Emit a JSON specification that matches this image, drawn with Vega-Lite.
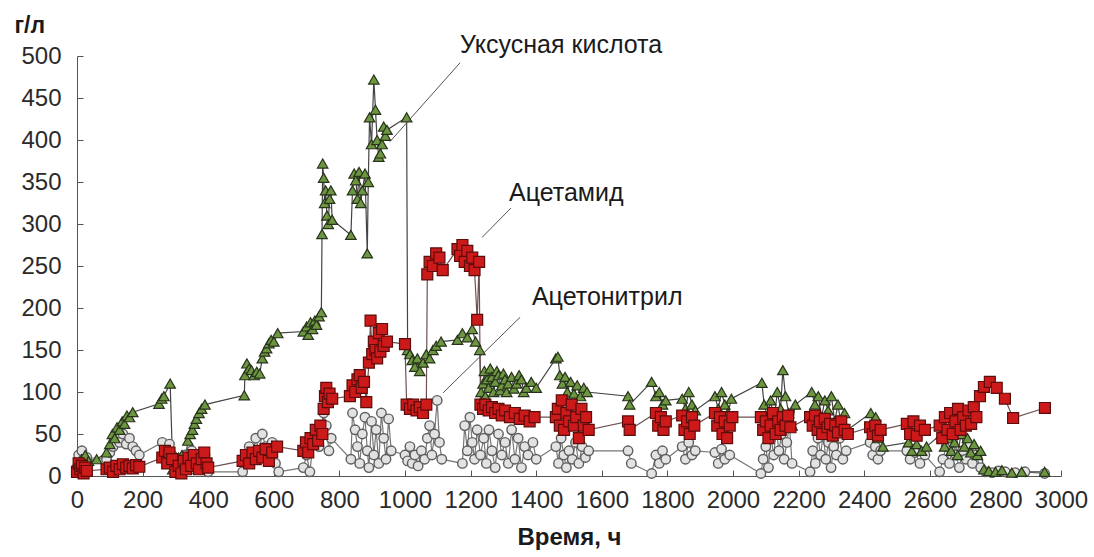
{
  "$schema": "https://vega.github.io/schema/vega-lite/v6.json",
  "width": 984,
  "height": 420,
  "autosize": "none",
  "padding": {"left": 77, "top": 56, "right": 33, "bottom": 81},
  "background": "white",
  "config": {
    "view": {"stroke": null},
    "font": "Liberation Sans",
    "axis": {"grid": false, "domainColor": "#555", "tickColor": "#555", "labelColor": "#2a2a2a", "labelFont": "Liberation Sans", "titleFont": "Liberation Sans", "titleColor": "#1a1a1a"}
  },
  "datasets": {
    "acid": [
      {"t":0,"c":8},{"t":5,"c":15},{"t":10,"c":5},{"t":15,"c":20},{"t":20,"c":12},{"t":25,"c":25},{"t":35,"c":18},{"t":60,"c":20},{"t":90,"c":28},{"t":100,"c":38},{"t":108,"c":50},{"t":115,"c":45},{"t":122,"c":58},{"t":130,"c":55},{"t":138,"c":65},{"t":145,"c":62},{"t":152,"c":72},{"t":160,"c":70},{"t":170,"c":76},{"t":250,"c":86},{"t":258,"c":92},{"t":265,"c":95},{"t":284,"c":110},{"t":292,"c":8},{"t":300,"c":15},{"t":310,"c":22},{"t":320,"c":25},{"t":330,"c":18},{"t":338,"c":42},{"t":345,"c":50},{"t":352,"c":55},{"t":358,"c":62},{"t":364,"c":68},{"t":372,"c":75},{"t":380,"c":80},{"t":390,"c":85},{"t":510,"c":96},{"t":512,"c":120},{"t":518,"c":134},{"t":525,"c":128},{"t":532,"c":126},{"t":540,"c":120},{"t":548,"c":124},{"t":557,"c":122},{"t":565,"c":140},{"t":572,"c":148},{"t":578,"c":152},{"t":585,"c":158},{"t":592,"c":162},{"t":600,"c":160},{"t":612,"c":170},{"t":690,"c":172},{"t":700,"c":178},{"t":705,"c":168},{"t":712,"c":183},{"t":718,"c":175},{"t":725,"c":185},{"t":730,"c":180},{"t":738,"c":190},{"t":745,"c":195},{"t":747,"c":288},{"t":749,"c":372},{"t":752,"c":355},{"t":755,"c":325},{"t":758,"c":340},{"t":762,"c":310},{"t":766,"c":300},{"t":770,"c":330},{"t":774,"c":340},{"t":778,"c":305},{"t":835,"c":287},{"t":840,"c":340},{"t":845,"c":360},{"t":850,"c":352},{"t":855,"c":330},{"t":860,"c":362},{"t":865,"c":325},{"t":870,"c":340},{"t":878,"c":360},{"t":885,"c":265},{"t":888,"c":350},{"t":892,"c":427},{"t":898,"c":395},{"t":905,"c":472},{"t":910,"c":436},{"t":915,"c":400},{"t":920,"c":380},{"t":925,"c":384},{"t":930,"c":395},{"t":935,"c":416},{"t":940,"c":405},{"t":945,"c":412},{"t":1005,"c":427},{"t":1008,"c":150},{"t":1015,"c":145},{"t":1022,"c":138},{"t":1030,"c":130},{"t":1038,"c":140},{"t":1045,"c":125},{"t":1055,"c":135},{"t":1065,"c":145},{"t":1075,"c":140},{"t":1085,"c":150},{"t":1095,"c":155},{"t":1110,"c":160},{"t":1160,"c":162},{"t":1175,"c":170},{"t":1190,"c":165},{"t":1205,"c":175},{"t":1215,"c":160},{"t":1228,"c":150},{"t":1232,"c":100},{"t":1238,"c":110},{"t":1242,"c":125},{"t":1245,"c":95},{"t":1250,"c":115},{"t":1255,"c":105},{"t":1260,"c":128},{"t":1265,"c":118},{"t":1270,"c":100},{"t":1275,"c":112},{"t":1280,"c":125},{"t":1285,"c":120},{"t":1290,"c":102},{"t":1295,"c":108},{"t":1300,"c":122},{"t":1305,"c":115},{"t":1310,"c":100},{"t":1315,"c":110},{"t":1325,"c":118},{"t":1332,"c":104},{"t":1340,"c":110},{"t":1348,"c":120},{"t":1355,"c":115},{"t":1362,"c":100},{"t":1370,"c":105},{"t":1385,"c":112},{"t":1400,"c":105},{"t":1460,"c":140},{"t":1466,"c":142},{"t":1472,"c":120},{"t":1480,"c":110},{"t":1488,"c":118},{"t":1495,"c":100},{"t":1505,"c":112},{"t":1515,"c":98},{"t":1525,"c":108},{"t":1535,"c":95},{"t":1545,"c":105},{"t":1555,"c":100},{"t":1680,"c":95},{"t":1685,"c":85},{"t":1752,"c":112},{"t":1765,"c":95},{"t":1775,"c":100},{"t":1785,"c":85},{"t":1795,"c":90},{"t":1845,"c":92},{"t":1855,"c":80},{"t":1865,"c":100},{"t":1875,"c":85},{"t":1885,"c":78},{"t":1945,"c":95},{"t":1955,"c":80},{"t":1965,"c":100},{"t":1975,"c":85},{"t":1985,"c":75},{"t":1995,"c":92},{"t":2088,"c":111},{"t":2095,"c":85},{"t":2105,"c":70},{"t":2115,"c":90},{"t":2125,"c":65},{"t":2135,"c":100},{"t":2145,"c":80},{"t":2152,"c":126},{"t":2160,"c":95},{"t":2170,"c":75},{"t":2180,"c":60},{"t":2190,"c":85},{"t":2240,"c":100},{"t":2250,"c":85},{"t":2260,"c":95},{"t":2270,"c":70},{"t":2280,"c":90},{"t":2290,"c":78},{"t":2300,"c":95},{"t":2310,"c":65},{"t":2320,"c":85},{"t":2330,"c":60},{"t":2340,"c":75},{"t":2350,"c":55},{"t":2420,"c":75},{"t":2428,"c":60},{"t":2435,"c":70},{"t":2442,"c":45},{"t":2450,"c":55},{"t":2457,"c":35},{"t":2535,"c":40},{"t":2545,"c":30},{"t":2560,"c":38},{"t":2575,"c":30},{"t":2590,"c":35},{"t":2635,"c":50},{"t":2645,"c":35},{"t":2655,"c":45},{"t":2665,"c":30},{"t":2675,"c":40},{"t":2685,"c":25},{"t":2695,"c":50},{"t":2705,"c":35},{"t":2715,"c":45},{"t":2725,"c":28},{"t":2735,"c":38},{"t":2745,"c":25},{"t":2755,"c":30},{"t":2765,"c":8},{"t":2780,"c":6},{"t":2800,"c":5},{"t":2820,"c":7},{"t":2850,"c":4},{"t":2880,"c":5},{"t":2950,"c":5}
    ],
    "amide": [
      {"t":0,"c":5},{"t":5,"c":15},{"t":10,"c":8},{"t":15,"c":12},{"t":20,"c":3},{"t":25,"c":10},{"t":30,"c":6},{"t":90,"c":8},{"t":100,"c":10},{"t":110,"c":5},{"t":120,"c":12},{"t":130,"c":8},{"t":140,"c":14},{"t":150,"c":10},{"t":160,"c":12},{"t":170,"c":9},{"t":180,"c":13},{"t":190,"c":11},{"t":260,"c":22},{"t":268,"c":30},{"t":275,"c":15},{"t":282,"c":28},{"t":290,"c":20},{"t":300,"c":5},{"t":310,"c":12},{"t":318,"c":3},{"t":325,"c":18},{"t":332,"c":8},{"t":340,"c":22},{"t":348,"c":12},{"t":356,"c":25},{"t":365,"c":15},{"t":372,"c":8},{"t":380,"c":20},{"t":388,"c":28},{"t":395,"c":15},{"t":400,"c":10},{"t":505,"c":18},{"t":515,"c":25},{"t":525,"c":15},{"t":535,"c":28},{"t":545,"c":20},{"t":555,"c":30},{"t":565,"c":22},{"t":575,"c":32},{"t":585,"c":18},{"t":595,"c":28},{"t":610,"c":35},{"t":690,"c":30},{"t":698,"c":40},{"t":705,"c":28},{"t":712,"c":45},{"t":720,"c":38},{"t":728,"c":55},{"t":735,"c":42},{"t":742,"c":60},{"t":748,"c":50},{"t":752,"c":80},{"t":756,"c":95},{"t":760,"c":105},{"t":765,"c":88},{"t":770,"c":98},{"t":778,"c":92},{"t":832,"c":95},{"t":840,"c":108},{"t":848,"c":100},{"t":855,"c":115},{"t":862,"c":120},{"t":868,"c":105},{"t":875,"c":112},{"t":882,"c":88},{"t":890,"c":135},{"t":895,"c":185},{"t":900,"c":145},{"t":905,"c":160},{"t":910,"c":150},{"t":915,"c":140},{"t":920,"c":170},{"t":925,"c":148},{"t":930,"c":175},{"t":935,"c":155},{"t":945,"c":160},{"t":1000,"c":157},{"t":1005,"c":85},{"t":1015,"c":80},{"t":1025,"c":85},{"t":1035,"c":78},{"t":1045,"c":82},{"t":1055,"c":75},{"t":1065,"c":85},{"t":1068,"c":240},{"t":1075,"c":255},{"t":1085,"c":250},{"t":1095,"c":265},{"t":1105,"c":260},{"t":1115,"c":245},{"t":1160,"c":270},{"t":1168,"c":262},{"t":1175,"c":275},{"t":1182,"c":255},{"t":1190,"c":268},{"t":1198,"c":250},{"t":1205,"c":260},{"t":1212,"c":245},{"t":1220,"c":186},{"t":1226,"c":255},{"t":1230,"c":85},{"t":1238,"c":80},{"t":1245,"c":85},{"t":1255,"c":78},{"t":1265,"c":82},{"t":1275,"c":75},{"t":1285,"c":80},{"t":1295,"c":72},{"t":1305,"c":78},{"t":1320,"c":70},{"t":1335,"c":75},{"t":1350,"c":68},{"t":1365,"c":72},{"t":1380,"c":65},{"t":1395,"c":70},{"t":1460,"c":70},{"t":1466,"c":80},{"t":1472,"c":60},{"t":1478,"c":90},{"t":1485,"c":55},{"t":1492,"c":75},{"t":1500,"c":65},{"t":1508,"c":85},{"t":1515,"c":60},{"t":1522,"c":70},{"t":1530,"c":45},{"t":1538,"c":80},{"t":1545,"c":60},{"t":1552,"c":70},{"t":1560,"c":55},{"t":1680,"c":65},{"t":1685,"c":55},{"t":1765,"c":75},{"t":1772,"c":60},{"t":1780,"c":70},{"t":1788,"c":55},{"t":1795,"c":65},{"t":1845,"c":72},{"t":1852,"c":55},{"t":1860,"c":65},{"t":1868,"c":50},{"t":1875,"c":70},{"t":1882,"c":60},{"t":1945,"c":75},{"t":1952,"c":60},{"t":1960,"c":70},{"t":1968,"c":50},{"t":1975,"c":65},{"t":1982,"c":45},{"t":1990,"c":60},{"t":1998,"c":70},{"t":2085,"c":70},{"t":2092,"c":55},{"t":2100,"c":65},{"t":2108,"c":45},{"t":2115,"c":60},{"t":2122,"c":75},{"t":2130,"c":50},{"t":2138,"c":65},{"t":2145,"c":55},{"t":2152,"c":70},{"t":2160,"c":60},{"t":2168,"c":72},{"t":2175,"c":58},{"t":2235,"c":70},{"t":2243,"c":60},{"t":2250,"c":72},{"t":2258,"c":55},{"t":2265,"c":65},{"t":2272,"c":50},{"t":2280,"c":68},{"t":2288,"c":58},{"t":2296,"c":62},{"t":2304,"c":48},{"t":2312,"c":60},{"t":2320,"c":52},{"t":2330,"c":65},{"t":2340,"c":55},{"t":2350,"c":50},{"t":2418,"c":58},{"t":2426,"c":50},{"t":2434,"c":60},{"t":2442,"c":48},{"t":2450,"c":55},{"t":2530,"c":62},{"t":2540,"c":50},{"t":2550,"c":65},{"t":2560,"c":48},{"t":2570,"c":60},{"t":2585,"c":55},{"t":2630,"c":60},{"t":2638,"c":45},{"t":2646,"c":70},{"t":2654,"c":55},{"t":2662,"c":75},{"t":2670,"c":50},{"t":2678,"c":65},{"t":2686,"c":80},{"t":2694,"c":55},{"t":2702,"c":70},{"t":2710,"c":60},{"t":2718,"c":78},{"t":2726,"c":62},{"t":2734,"c":82},{"t":2742,"c":70},{"t":2753,"c":95},{"t":2765,"c":106},{"t":2783,"c":112},{"t":2804,"c":105},{"t":2829,"c":92},{"t":2854,"c":69},{"t":2951,"c":81}
    ],
    "nitrile": [
      {"t":0,"c":10},{"t":5,"c":25},{"t":10,"c":15},{"t":15,"c":30},{"t":20,"c":20},{"t":25,"c":12},{"t":30,"c":22},{"t":90,"c":20},{"t":100,"c":28},{"t":110,"c":35},{"t":120,"c":45},{"t":130,"c":40},{"t":140,"c":50},{"t":150,"c":38},{"t":160,"c":45},{"t":170,"c":35},{"t":180,"c":30},{"t":190,"c":25},{"t":260,"c":40},{"t":268,"c":30},{"t":275,"c":20},{"t":282,"c":38},{"t":290,"c":25},{"t":300,"c":10},{"t":310,"c":20},{"t":320,"c":5},{"t":330,"c":25},{"t":340,"c":15},{"t":350,"c":30},{"t":360,"c":8},{"t":370,"c":20},{"t":380,"c":12},{"t":390,"c":25},{"t":400,"c":5},{"t":505,"c":5},{"t":515,"c":20},{"t":525,"c":35},{"t":535,"c":25},{"t":545,"c":45},{"t":555,"c":30},{"t":565,"c":50},{"t":575,"c":35},{"t":585,"c":20},{"t":595,"c":40},{"t":605,"c":15},{"t":615,"c":5},{"t":690,"c":10},{"t":700,"c":25},{"t":710,"c":5},{"t":720,"c":40},{"t":730,"c":55},{"t":738,"c":35},{"t":745,"c":60},{"t":752,"c":75},{"t":760,"c":60},{"t":768,"c":30},{"t":775,"c":45},{"t":835,"c":20},{"t":840,"c":75},{"t":848,"c":55},{"t":855,"c":35},{"t":862,"c":15},{"t":870,"c":50},{"t":878,"c":70},{"t":885,"c":30},{"t":890,"c":10},{"t":898,"c":65},{"t":905,"c":25},{"t":912,"c":55},{"t":920,"c":15},{"t":928,"c":75},{"t":935,"c":45},{"t":942,"c":20},{"t":950,"c":68},{"t":958,"c":30},{"t":1000,"c":25},{"t":1008,"c":18},{"t":1015,"c":35},{"t":1022,"c":15},{"t":1030,"c":25},{"t":1040,"c":12},{"t":1050,"c":30},{"t":1060,"c":20},{"t":1068,"c":45},{"t":1075,"c":60},{"t":1082,"c":25},{"t":1090,"c":50},{"t":1098,"c":90},{"t":1105,"c":40},{"t":1112,"c":20},{"t":1175,"c":15},{"t":1182,"c":60},{"t":1190,"c":30},{"t":1198,"c":70},{"t":1205,"c":40},{"t":1212,"c":20},{"t":1220,"c":55},{"t":1230,"c":25},{"t":1240,"c":45},{"t":1248,"c":15},{"t":1256,"c":55},{"t":1265,"c":30},{"t":1275,"c":10},{"t":1285,"c":50},{"t":1295,"c":25},{"t":1305,"c":40},{"t":1315,"c":15},{"t":1325,"c":55},{"t":1335,"c":20},{"t":1345,"c":45},{"t":1355,"c":10},{"t":1365,"c":35},{"t":1375,"c":25},{"t":1390,"c":40},{"t":1400,"c":20},{"t":1460,"c":35},{"t":1468,"c":15},{"t":1476,"c":45},{"t":1484,"c":25},{"t":1492,"c":10},{"t":1500,"c":30},{"t":1510,"c":20},{"t":1520,"c":40},{"t":1530,"c":15},{"t":1540,"c":35},{"t":1550,"c":22},{"t":1560,"c":30},{"t":1680,"c":30},{"t":1690,"c":15},{"t":1752,"c":3},{"t":1765,"c":25},{"t":1775,"c":15},{"t":1785,"c":30},{"t":1795,"c":20},{"t":1845,"c":35},{"t":1855,"c":20},{"t":1865,"c":40},{"t":1875,"c":25},{"t":1885,"c":30},{"t":1945,"c":28},{"t":1955,"c":15},{"t":1965,"c":32},{"t":1975,"c":20},{"t":1990,"c":25},{"t":2085,"c":3},{"t":2092,"c":20},{"t":2100,"c":35},{"t":2108,"c":10},{"t":2116,"c":45},{"t":2124,"c":25},{"t":2132,"c":55},{"t":2140,"c":30},{"t":2148,"c":50},{"t":2156,"c":20},{"t":2164,"c":40},{"t":2172,"c":60},{"t":2180,"c":15},{"t":2235,"c":5},{"t":2243,"c":30},{"t":2251,"c":15},{"t":2259,"c":45},{"t":2267,"c":25},{"t":2275,"c":50},{"t":2283,"c":20},{"t":2291,"c":40},{"t":2299,"c":10},{"t":2307,"c":35},{"t":2315,"c":25},{"t":2325,"c":45},{"t":2335,"c":20},{"t":2345,"c":30},{"t":2418,"c":40},{"t":2426,"c":25},{"t":2434,"c":35},{"t":2442,"c":20},{"t":2450,"c":30},{"t":2530,"c":30},{"t":2540,"c":20},{"t":2555,"c":28},{"t":2570,"c":15},{"t":2585,"c":25},{"t":2630,"c":5},{"t":2640,"c":20},{"t":2650,"c":35},{"t":2660,"c":15},{"t":2670,"c":40},{"t":2680,"c":25},{"t":2690,"c":10},{"t":2700,"c":30},{"t":2710,"c":20},{"t":2720,"c":35},{"t":2730,"c":15},{"t":2740,"c":25},{"t":2755,"c":10},{"t":2770,"c":5},{"t":2790,"c":4},{"t":2810,"c":6},{"t":2830,"c":5},{"t":2860,"c":4},{"t":2890,"c":5},{"t":2950,"c":3}
    ],
    "labels": [
      {"name":"Уксусная кислота","t":1168,"c":513,"t0":1168,"c0":492,"t1":954,"c1":398},
      {"name":"Ацетамид","t":1317,"c":337,"t0":1323,"c0":319,"t1":1235,"c1":284},
      {"name":"Ацетонитрил","t":1387,"c":213,"t0":1351,"c0":189,"t1":1116,"c1":99}
    ]
  },
  "encoding": {
    "x": {"field": "t", "type": "quantitative", "scale": {"domain": [0, 3000], "nice": false},
      "axis": {"values": [0,200,400,600,800,1000,1200,1400,1600,1800,2000,2200,2400,2600,2800,3000], "format": "d", "title": "Время, ч", "titleFontSize": 24, "titleFontWeight": "bold", "titlePadding": 13, "labelFontSize": 24, "tickSize": -6, "labelPadding": 18, "labelFlush": false, "labelOverlap": false}},
    "y": {"field": "c", "type": "quantitative", "scale": {"domain": [0, 500], "nice": false},
      "axis": {"values": [0,50,100,150,200,250,300,350,400,450,500], "format": "d", "title": "г/л", "titleAngle": 0, "titleAlign": "left", "titleBaseline": "middle", "titleX": -63, "titleY": -31, "titleFontSize": 23, "titleFontWeight": "bold", "labelFontSize": 24, "tickSize": -6, "labelPadding": 22}}
  },
  "layer": [
    {"data": {"name": "nitrile"}, "mark": {"type": "line", "color": "#777", "strokeWidth": 1.2, "clip": true}, "encoding": {}},
    {"data": {"name": "acid"}, "mark": {"type": "line", "color": "#444", "strokeWidth": 1.2, "clip": true}, "encoding": {}},
    {"data": {"name": "amide"}, "mark": {"type": "line", "color": "#6e5050", "strokeWidth": 1.2, "clip": true}, "encoding": {}},
    {"data": {"name": "nitrile"}, "mark": {"type": "point", "shape": "circle", "filled": true, "fill": "#e2e2e2", "stroke": "#5e5e5e", "strokeWidth": 1.4, "size": 90, "opacity": 1}},
    {"data": {"name": "acid"}, "mark": {"type": "point", "shape": "triangle-up", "filled": true, "fill": "#6c9640", "stroke": "#28331c", "strokeWidth": 1.2, "size": 110, "opacity": 1}},
    {"data": {"name": "amide"}, "mark": {"type": "point", "shape": "square", "filled": true, "fill": "#cc1a1a", "stroke": "#5e0b0b", "strokeWidth": 1.2, "size": 120, "opacity": 1}},
    {"data": {"name": "labels"}, "mark": {"type": "rule", "color": "#555", "strokeWidth": 1},
      "encoding": {"x": {"field": "t0", "type": "quantitative"}, "y": {"field": "c0", "type": "quantitative"}, "x2": {"field": "t1"}, "y2": {"field": "c1"}}},
    {"data": {"name": "labels"}, "mark": {"type": "text", "align": "left", "baseline": "middle", "fontSize": 25, "color": "#1a1a1a", "font": "Liberation Sans"},
      "encoding": {"text": {"field": "name"}}}
  ]
}
